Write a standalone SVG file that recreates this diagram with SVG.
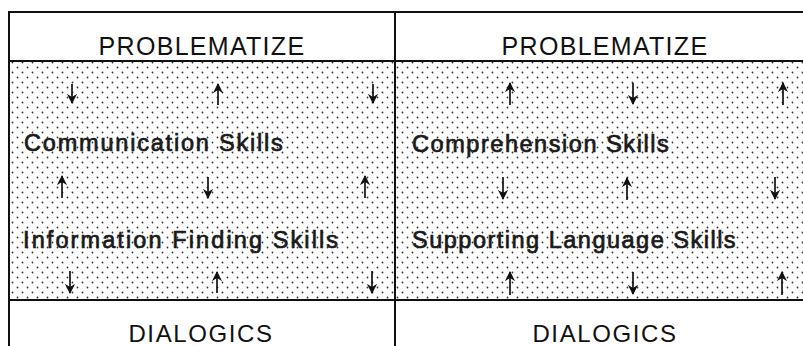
<svg xmlns="http://www.w3.org/2000/svg" width="803" height="346" viewBox="0 0 803 346">
<style>
.head{font-family:"Liberation Sans",Arial,sans-serif;font-size:25px;letter-spacing:1.3px;fill:#111;text-anchor:middle}
.foot{font-family:"Liberation Sans",Arial,sans-serif;font-size:24px;letter-spacing:1.6px;fill:#111;text-anchor:middle}
.skill{font-family:"Liberation Sans",Arial,sans-serif;font-size:23.5px;letter-spacing:1.3px;fill:#1a1a1a;stroke:#1a1a1a;stroke-width:0.7px}
.rule{stroke:#111;stroke-width:2;fill:none}
.arr{stroke:#111;stroke-width:1.7;fill:none;marker-end:url(#ah)}
</style>
<defs>
<pattern id="dots" width="10" height="10" patternUnits="userSpaceOnUse">
<rect width="10" height="10" fill="#fff"/>
<circle cx="2.5" cy="2.5" r="0.9" fill="#333"/>
<circle cx="7.5" cy="7.5" r="0.9" fill="#333"/>
</pattern>
<marker id="ah" viewBox="0 0 10 10" refX="9" refY="5" markerWidth="6" markerHeight="6" orient="auto" markerUnits="strokeWidth">
<path d="M0,0 L10,5 L0,10 L3,5 Z" fill="#111"/>
</marker>
</defs>
<rect width="803" height="346" fill="#fff"/>
<g id="shade">
<rect x="9" y="61" width="794" height="239" fill="url(#dots)"/>
</g>
<g id="frame">
<line class="rule" x1="9" y1="12" x2="803" y2="12"/>
<line class="rule" x1="9" y1="61" x2="803" y2="61"/>
<line class="rule" x1="9" y1="300" x2="803" y2="300" stroke-width="2.5"/>
<line class="rule" x1="9" y1="11" x2="9" y2="346"/>
<line class="rule" x1="395" y1="11" x2="395" y2="346"/>
</g>
<g id="left-header"><text class="head" x="202" y="55">PROBLEMATIZE</text></g>
<g id="right-header"><text class="head" x="605" y="55">PROBLEMATIZE</text></g>
<g id="communication"><text class="skill" x="24" y="151" style="letter-spacing:1.8px">Communication Skills</text></g>
<g id="information"><text class="skill" x="23" y="248" style="letter-spacing:2.1px">Information Finding Skills</text></g>
<g id="comprehension"><text class="skill" x="412" y="152" style="letter-spacing:1.55px">Comprehension Skills</text></g>
<g id="supporting"><text class="skill" x="412" y="248" style="letter-spacing:1.5px">Supporting Language Skills</text></g>
<g id="left-footer"><text class="foot" x="201" y="342">DIALOGICS</text></g>
<g id="right-footer"><text class="foot" x="605" y="342">DIALOGICS</text></g>
<g id="connectors">
<line class="arr" x1="72" y1="84" x2="72" y2="103"/>
<line class="arr" x1="218" y1="105" x2="218" y2="84"/>
<line class="arr" x1="373" y1="84" x2="373" y2="103"/>
<line class="arr" x1="62" y1="198" x2="62" y2="176"/>
<line class="arr" x1="208" y1="177" x2="208" y2="198"/>
<line class="arr" x1="365" y1="198" x2="365" y2="176"/>
<line class="arr" x1="70" y1="271" x2="70" y2="293"/>
<line class="arr" x1="217" y1="293" x2="217" y2="272"/>
<line class="arr" x1="372" y1="271" x2="372" y2="293"/>
<line class="arr" x1="510" y1="105" x2="510" y2="83"/>
<line class="arr" x1="633" y1="83" x2="633" y2="104"/>
<line class="arr" x1="783" y1="105" x2="783" y2="83"/>
<line class="arr" x1="503" y1="177" x2="503" y2="199"/>
<line class="arr" x1="627" y1="200" x2="627" y2="178"/>
<line class="arr" x1="775" y1="177" x2="775" y2="199"/>
<line class="arr" x1="510" y1="295" x2="510" y2="272"/>
<line class="arr" x1="633" y1="272" x2="633" y2="294"/>
<line class="arr" x1="782" y1="295" x2="782" y2="272"/>
</g>
</svg>
